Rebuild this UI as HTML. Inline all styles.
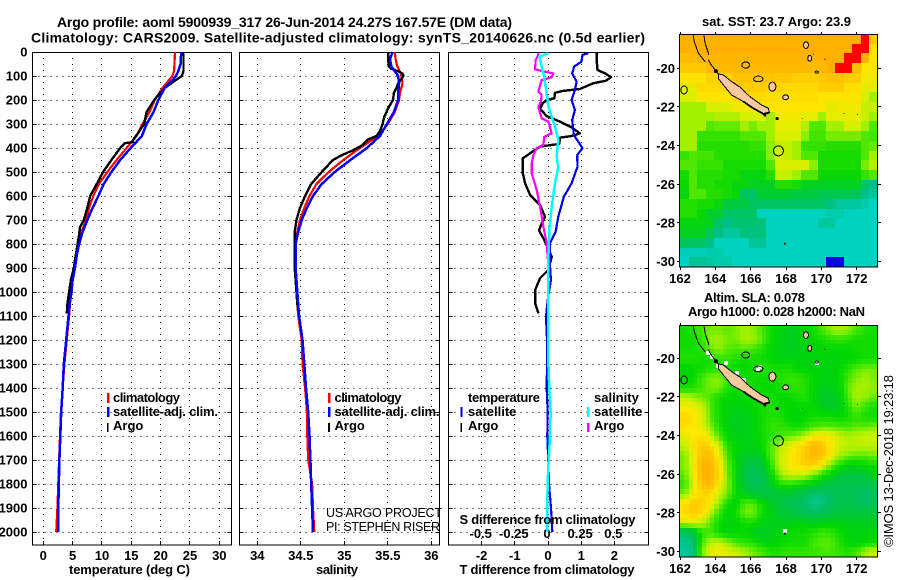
<!DOCTYPE html>
<html>
<head>
<meta charset="utf-8">
<title>Argo profile 5900939_317</title>
<style>
html,body{margin:0;padding:0;background:#fff;width:900px;height:580px;overflow:hidden}
svg{display:block}
text{font-family:"Liberation Sans",sans-serif;fill:#000}
.b{font-weight:bold}
.tl{font-weight:bold;font-size:14px}
.lab{font-weight:bold;font-size:13px}
.leg{font-weight:bold;font-size:13px}
</style>
</head>
<body>
<svg id="chart" xmlns="http://www.w3.org/2000/svg" width="900" height="580" viewBox="0 0 900 580">
  <rect x="0" y="0" width="900" height="580" fill="#fff"/>
  <g id="maps"></g>
  <g id="panels"></g>

  <text class="tl" x="57" y="27" textLength="455" lengthAdjust="spacing">Argo profile: aoml 5900939_317 26-Jun-2014 24.27S 167.57E (DM data)</text>
  <text class="tl" x="31" y="42.5" textLength="614" lengthAdjust="spacing">Climatology: CARS2009. Satellite-adjusted climatology: synTS_20140626.nc (0.5d earlier)</text>

  <text class="lab" x="69" y="574" textLength="121" lengthAdjust="spacing">temperature (deg C)</text>
  <text class="lab" x="316" y="574" textLength="42" lengthAdjust="spacing">salinity</text>
  <text class="lab" x="459.5" y="574" textLength="175" lengthAdjust="spacing">T difference from climatology</text>
  <text class="lab" x="459.5" y="524" textLength="176" lengthAdjust="spacing">S difference from climatology</text>

  <g>
    <rect x="107" y="393" width="2.5" height="10" fill="#ff0000"/>
    <text class="leg" x="113" y="402" textLength="67" lengthAdjust="spacing">climatology</text>
    <rect x="107" y="407" width="2.5" height="10" fill="#0000ff"/>
    <text class="leg" x="113" y="416" textLength="105" lengthAdjust="spacing">satellite-adj. clim.</text>
    <rect x="107" y="423" width="1.5" height="9" fill="#000"/>
    <text class="leg" x="113" y="430">Argo</text>
  </g>
  <g>
    <rect x="328" y="393" width="2.5" height="10" fill="#ff0000"/>
    <text class="leg" x="334.5" y="402" textLength="67" lengthAdjust="spacing">climatology</text>
    <rect x="328" y="407" width="2.5" height="10" fill="#0000ff"/>
    <text class="leg" x="334.5" y="416" textLength="105" lengthAdjust="spacing">satellite-adj. clim.</text>
    <rect x="328" y="423" width="2" height="9" fill="#000"/>
    <text class="leg" x="334.5" y="430">Argo</text>
  </g>
  <g>
    <text class="leg" x="468" y="402" textLength="72" lengthAdjust="spacing">temperature</text>
    <rect x="460.5" y="407" width="2" height="10" fill="#0000e0"/>
    <text class="leg" x="468" y="416">satellite</text>
    <rect x="460.5" y="423" width="1.5" height="9" fill="#000"/>
    <text class="leg" x="468" y="430">Argo</text>
    <text class="leg" x="594" y="402">salinity</text>
    <rect x="587" y="407" width="2.5" height="10" fill="#00ffff"/>
    <text class="leg" x="594" y="416">satellite</text>
    <rect x="587" y="423" width="2.5" height="9" fill="#ff00ff"/>
    <text class="leg" x="594" y="430">Argo</text>
  </g>

  <text font-size="12.5" x="326" y="517" textLength="116" lengthAdjust="spacing">US ARGO PROJECT</text>
  <text font-size="12.5" x="326" y="531" textLength="114" lengthAdjust="spacing">PI: STEPHEN RISER</text>

  <text class="lab" x="702" y="26" textLength="149" lengthAdjust="spacing">sat. SST: 23.7 Argo: 23.9</text>
  <text class="lab" x="704" y="302" textLength="101" lengthAdjust="spacing">Altim. SLA: 0.078</text>
  <text class="lab" x="688" y="316" textLength="177" lengthAdjust="spacing">Argo h1000: 0.028 h2000: NaN</text>
  <text font-size="13" transform="translate(893,547) rotate(-90)" textLength="172" lengthAdjust="spacing">©IMOS 13-Dec-2018 19:23:18</text>
</svg>

<script>
// ---------- tick labels ----------
const depthTicks = [0,100,200,300,400,500,600,700,800,900,1000,1100,1200,1300,1400,1500,1600,1700,1800,1900,2000];
const tempTicks = [0,5,10,15,20,25,30];
const salTicks = [34,34.5,35,35.5,36];
const dtTicks = [-2,-1,0,1,2];
const dsTicks = [-0.5,-0.25,0,0.25,0.5];
const dsTickLabels = ['-0.5','-0.25','0','0.25','0.5'];
const lonTicks = [162,164,166,168,170,172];
const latTicks = [-20,-22,-24,-26,-28,-30];

// ---------- temperature profiles ----------
const argoTempDepth = [0,80,100,120,150,170,200,250,300,350,370,375,380,400,450,500,550,600,650,700,730,760,800,850,900,950,1000,1050,1090];
const argoTemp = [23.9,23.9,23.6,22.4,20.7,19.9,18.9,17.6,17.2,15.8,15.2,15.3,13.9,13.1,11.6,10.2,9.1,8.0,7.5,6.9,6.25,6.1,5.85,5.5,5.2,4.7,4.4,4.1,4.0];
const climTempDepth = [0,80,100,120,150,200,250,300,350,400,450,500,550,600,650,700,750,800,850,900,950,1000,1100,1150,1200,1300,1400,1500,1600,1700,1800,1900,2000];
const climTemp = [22.45,22.3,22,21.3,20.3,19,18.1,16.9,15.9,14.2,12.5,10.9,9.5,8.5,7.8,7.3,6.5,6.1,5.6,5.2,4.9,4.7,4.4,4.2,4.0,3.6,3.3,3.0,2.85,2.7,2.55,2.4,2.2];
const satTempDepth = [0,50,80,100,120,150,200,250,300,350,400,450,500,550,600,650,700,750,800,850,900,950,1000,1050,1100,1200,1300,1400,1500,1600,1700,1800,1900,2000];
const satTemp = [23.5,23.4,23,22.6,21.9,20.7,19.6,18.8,17.6,16.8,14.9,13.1,11.6,10.3,9.4,8.4,7.5,6.7,6.1,5.7,5.4,5,4.8,4.5,4.3,3.9,3.5,3.3,3.05,2.9,2.75,2.65,2.55,2.55];

// ---------- salinity profiles ----------
const argoSalDepth = [0,30,60,70,80,90,100,110,130,150,170,200,230,270,300,330,350,365,390,410,430,450,500,550,600,650,700,750,800,900,1000,1050,1095];
const argoSal = [35.505,35.505,35.51,35.54,35.62,35.67,35.68,35.66,35.62,35.6,35.57,35.56,35.51,35.46,35.44,35.41,35.37,35.27,35.2,35.1,34.97,34.87,34.74,34.62,34.55,34.49,34.45,34.43,34.43,34.43,34.45,34.46,34.48];
const climSalDepth = [0,30,60,90,130,170,200,250,300,350,400,450,500,550,600,650,700,750,800,900,1000,1100,1200,1300,1400,1500,1600,1700,1800,1900,2000];
const climSal = [35.58,35.59,35.61,35.65,35.67,35.64,35.63,35.58,35.5,35.39,35.18,34.99,34.82,34.68,34.6,34.54,34.49,34.46,34.44,34.44,34.45,34.47,34.51,34.52,34.55,34.57,34.575,34.585,34.63,34.64,34.655];
const satSalDepth = [0,30,60,80,100,130,170,200,250,300,350,400,450,500,550,600,650,700,750,800,900,1000,1100,1200,1300,1400,1500,1600,1700,1800,1900,2000];
const satSal = [35.555,35.525,35.54,35.58,35.62,35.63,35.62,35.62,35.57,35.49,35.41,35.26,35.07,34.89,34.74,34.64,34.57,34.51,34.47,34.44,34.44,34.46,34.48,34.52,34.54,34.56,34.585,34.6,34.61,34.62,34.63,34.64];

// ---------- differences from climatology ----------
const argoDtDepth = [5,40,75,89,105,120,130,154,162,170,193,200,214,237,267,290,314,339,350,357,383,394,422,443,505,547,596,637,686,714,744,776,811,853,908,943,992,1047,1089];
const argoDt = [1.47,1.47,1.49,1.72,1.9,1.74,1.37,0.96,0.46,0.21,0.19,-0.04,-0.16,-0.24,-0.04,0.36,0.71,0.96,0.71,0.36,0.34,-0.24,-0.54,-0.76,-0.76,-0.69,-0.54,-0.24,-0.09,-0.19,-0.27,-0.14,-0.02,0.11,0.01,-0.24,-0.39,-0.39,-0.29];
const satDtDepth = [5,12,40,61,89,124,158,200,242,283,346,401,429,478,547,603,686,749,797,894,950,1033,1103,1200,1300,1400,1500,1600,1700,1800,1850,1900,2000];
const satDt = [1.21,1.04,1.01,0.79,0.73,0.86,0.81,0.71,0.81,0.73,0.78,1.04,0.88,0.89,0.71,0.48,0.31,0.23,0.06,0.06,0.09,-0.01,-0.06,-0.03,-0.03,-0.04,-0.01,-0.02,0.01,0.03,0.06,0.09,0.13];
const argoDsDepth = [5,33,72,79,89,105,117,165,179,207,228,276,290,339,353,387,401,429,464,505,575,644,728,797,894,1090];
const argoDs = [-0.068,-0.093,-0.098,-0.048,0.04,0.028,-0.048,-0.073,-0.048,-0.053,-0.073,-0.048,0.003,0.028,-0.028,-0.035,-0.085,-0.11,-0.123,-0.123,-0.085,-0.06,-0.035,-0.01,0.003,0.003];
const satDsDepth = [5,19,89,172,228,311,367,436,478,547,644,742,853,1103,1300,1400,1500,1600,1700,1800,1900,2000];
const satDs = [0.003,-0.065,-0.035,-0.01,0.003,0.053,0.078,0.065,0.078,0.053,0.028,0.01,0.003,0.003,0.003,0.01,0.02,0.015,0.005,-0.003,-0.005,-0.005];

// ---------- SST map (deg C), rows north to south ----------
const sstRows = [
[25,25,25,25,25,25,25,25,25,25,25,25,25,25,25,25,25,25,25,25,25,25.5,24.5],
[25,25,25,25,25,25,25,25,25,25,25,25,25,25,25,25,25,25,25,25,25.5,25.5,24],
[24.7,24.8,24.9,24.9,24.9,24.9,24.9,24.9,24.9,24.9,24.9,24.9,24.9,24.9,24.9,24.9,24.9,25,25,25.5,25.5,25,24],
[24.5,24.5,24.5,24.8,24.8,24.8,24.8,24.8,24.8,24.8,24.8,24.8,24.8,24.8,24.8,24.7,24.8,25,25.5,25.5,24.7,24,24],
[24,24,24,24.3,24.3,24.3,24.6,24.6,24.6,24.6,24.6,24.5,24.5,24.4,24.4,24.4,24.5,24.6,24.6,24.4,24.4,23.9,23.9],
[23.8,23.8,24.2,24.2,24.2,24.2,24.4,24.4,24.4,24.4,24.3,24.3,24.2,24.2,24.2,24.2,24.4,24.4,24.4,24.1,24.1,23.8,23.8],
[23.7,23.7,24,24,24,24,24.2,24.2,24.2,24.2,24.1,24.1,24.1,24.1,24.1,24.1,24,24,24,24,24,23.7,23.4],
[23.4,23.4,23.4,23.7,23.7,23.7,23.9,23.9,23.9,23.9,24,24,24,24,24,24,24,23.8,23.9,23.9,23.9,23.6,23.6],
[23.4,23.4,23.4,23.4,23.5,23.5,23.5,23.7,23.7,23.7,23.4,23.9,23.9,23.9,23.8,23.8,23.4,23.8,23.8,23.8,23.8,23.6,23.4],
[23.4,23.4,23.4,23,23.1,23.1,23.1,23.4,23.2,23.4,23.4,23.8,23.8,23.8,23.5,23,23,23.4,23.4,23.7,23.7,23.4,23],
[23.4,23.4,22.8,22.8,22.8,22.8,22.8,23,23,23,23.4,23.7,23.7,23.7,23.3,22.9,22.9,23.2,23.2,23.2,23.2,23,22.9],
[23.4,23.4,22.7,22.7,22.7,22.7,22.7,22.7,22.8,22.8,23.3,23.6,23.6,23.4,22.8,22.8,22.8,22.7,22.7,22.7,22.7,23,23.1],
[22.8,23,22.9,22.9,22.7,22.7,22.7,22.7,22.7,22.7,23.3,23.7,23.6,23.4,23,23,22.6,22.6,22.6,22.6,22.6,23,23.4],
[23,23,22.8,22.8,22.8,22.6,22.6,22.6,22.6,22.6,23,23.7,23.7,23.7,23.7,23.3,22.6,22.6,22.6,22.6,22.6,23.2,23.5],
[22.6,23,22.7,22.7,22.7,22.6,22.6,22.4,22.4,22.4,22.7,23.6,23.6,23.4,23,23,22.5,22.5,22.5,22.5,22.5,22.8,23],
[22.5,23,22.7,22.7,22.6,22.6,22.4,22.4,22.3,22.3,22.3,22.7,22.7,22.6,22.3,22.3,22.3,22.3,22.3,22.3,22.3,21.8,21.5],
[22.4,23,23,22.7,22.7,22.6,22.4,21.8,21.8,22.2,22.2,22.2,22.2,22.1,22.1,22.1,22,22,22,22,21.9,21.5,21.3],
[22.7,22.7,22.6,22.6,22.4,22.1,22.1,22.1,21.8,21.8,21.8,21.8,21.8,21.8,21.8,21.8,21.8,21.6,21.3,21.3,21.3,21.2,21],
[22.7,22.7,22.5,22.2,22.2,21.8,21.8,21.8,21.8,21,21,21,21,21,21,21,21,21.2,21.2,21,21,21,21],
[22.4,22.4,22.4,22.3,21.8,21.5,21.7,21.7,21.7,21.6,21,21,21,21,21,21,21.3,21.3,21,21,21,21,21],
[22.3,22.3,22.3,21.9,21.5,21.3,21.3,21.6,21.6,21.6,21,21,21,21,21,21,21,21,21,21,21,21,21],
[21.9,21.8,21.8,21.5,21,21,21,21,21.4,21.4,21,21,21,21,21,21,21,21,21,21,21,21,21],
[21.1,21.1,21.1,21.2,21.2,21,21,21,21,21,21,21,21,21,21,21,21,21,21,21,21,21,21],
[21,21.4,21.4,21.3,21.2,21.2,21,21,21,21,21,21,21,21,21,21,21,20,20,21,21,21,21]
];
const sstStops = [20,20.5,21,21.5,22,22.5,23,23.4,23.7,24,24.5,25,25.3,25.5];
const sstColors = ['#0000e0','#0000e0','#00d2c0','#00c088','#00c850','#08d800','#50e800','#a0f000','#d8f000','#ffe400','#ffc800','#ffb000','#ff9000','#ff0000'];

// ---------- SLA map (m), rows north to south ----------
const slaRows = [
[.05,.06,.08,.1,.1,.09,.1,.12,.11,.08,.05,.03,.02,.02,.03,.05,.08,.11,.12,.11,.08,.06,.05],
[.05,.05,.07,.11,.12,.1,.1,.12,.12,.09,.05,.03,.02,.02,.03,.04,.05,.06,.07,.06,.05,.05,.05],
[.05,.05,.06,.09,.11,.09,.08,.09,.08,.06,.04,.03,.02,.02,.03,.03,.04,.04,.04,.04,.05,.05,.05],
[.06,.06,.05,.05,.07,.07,.06,.05,.05,.05,.04,.03,.03,.03,.03,.03,.03,.03,.03,.04,.04,.05,.05],
[.03,.04,.05,.06,.06,.05,.04,.04,.05,.06,.06,.05,.06,.04,.03,.03,.03,.03,.04,.06,.09,.1,.1],
[.04,.04,.08,.1,.11,.08,.06,.05,.05,.05,.05,.06,.07,.07,.06,.04,.03,.03,.04,.08,.1,.12,.1],
[.05,.06,.08,.1,.1,.06,.05,.05,.05,.04,.04,.05,.06,.07,.06,.04,.02,.02,.03,.09,.12,.12,.11],
[.14,.12,.1,.08,.05,.04,.03,.04,.05,.05,.05,.04,.04,.05,.06,.04,.01,.01,.02,.08,.12,.11,.09],
[.16,.16,.14,.09,.05,.03,.03,.03,.04,.05,.06,.05,.04,.04,.04,.04,.02,.01,.02,.06,.1,.07,.05],
[.19,.18,.15,.09,.05,.03,.02,.02,.03,.05,.06,.06,.04,.03,.04,.05,.05,.05,.04,.05,.07,.05,.05],
[.18,.17,.15,.11,.06,.03,.02,.02,.03,.05,.07,.07,.06,.05,.06,.08,.09,.09,.08,.08,.09,.09,.1],
[.15,.17,.18,.14,.08,.04,.02,.02,.03,.05,.06,.08,.09,.1,.13,.16,.17,.16,.14,.12,.13,.14,.14],
[.13,.17,.21,.2,.14,.06,.04,.03,.03,.04,.08,.12,.15,.17,.2,.24,.22,.17,.14,.13,.13,.13,.13],
[.1,.16,.22,.23,.16,.08,.03,.01,.01,.02,.08,.13,.16,.18,.21,.24,.22,.17,.12,.1,.09,.09,.1],
[.1,.16,.24,.25,.18,.09,.04,0,-.02,0,.06,.13,.16,.18,.2,.2,.16,.1,.06,.03,.03,.04,.05],
[.09,.15,.24,.25,.19,.1,.04,-.01,-.04,-.02,.03,.1,.14,.14,.13,.1,.06,.03,0,-.01,-.01,0,.02],
[.07,.14,.22,.24,.17,.11,.04,0,-.03,-.03,.01,.05,.06,.05,.03,.02,0,-.01,-.02,-.02,-.02,-.02,-.01],
[.1,.16,.19,.19,.14,.1,.04,.02,0,-.01,-.01,0,0,-.01,-.03,-.05,-.05,-.04,-.03,-.02,-.03,-.05,-.04],
[.18,.21,.2,.17,.11,.05,.03,.09,.09,.05,.02,-.01,-.02,-.03,-.05,-.07,-.06,-.04,-.02,-.02,-.03,-.04,-.03],
[.18,.21,.18,.13,.07,.03,.05,.1,.1,.05,.03,.01,0,-.01,-.02,-.03,-.02,-.01,0,0,0,0,0],
[.14,.15,.13,.09,.05,.03,.03,.05,.05,.03,.02,.02,.02,.03,.03,.02,.03,.03,.03,.02,.02,.02,.02],
[-.05,-.03,.06,.08,.05,.03,.04,.04,.02,.01,.02,.03,.04,.05,.05,.06,.08,.07,.05,.03,.03,.03,.03],
[-.07,-.05,.08,.13,.14,.12,.08,.07,.06,.04,.03,.04,.05,.05,.05,.08,.09,.09,.06,.04,.03,.04,.05],
[-.08,-.06,.1,.15,.16,.15,.14,.12,.1,.08,.06,.06,.07,.07,.07,.07,.08,.08,.07,.06,.08,.12,.14]
];
const slaStops = [-0.08,-0.04,0,0.04,0.08,0.11,0.14,0.17,0.21,0.25];
const slaColors = ['#00c8a0','#00c060','#00c838','#00d800','#40e800','#90f000','#d0f000','#ffe800','#ffc800','#ffb000'];

// ---------- geography (lon, lat) ----------
const newCaledoniaLon = [164.17,164.45,164.92,165.4,165.96,166.62,167,167.06,166.72,166.15,165.58,164.92,164.45,164.17];
const newCaledoniaLat = [-20.29,-20.34,-20.69,-20.98,-21.47,-21.9,-22.07,-22.29,-22.36,-22.07,-21.72,-21.38,-20.86,-20.52];
const southShoreLon = [165.58,166.15,166.72,167.06];
const southShoreLat = [-21.72,-22.07,-22.36,-22.29];
const reefALon = [162.75,162.8,163.04,163.42];
const reefALat = [-18.28,-18.6,-19.22,-19.66];
const reefBLon = [163.35,163.42,163.6,163.62];
const reefBLat = [-18.28,-18.7,-19.2,-19.3];
const reefCLon = [163.6,163.75,164,164.17];
const reefCLat = [-19.55,-19.8,-20.1,-20.29];
const islandLon = [165.72,166.43,167.23,167.98,162.23,169.13,169.34,169.74,167.5,168.92,171.28,172.04,170.2,167.94,169.55,164.03,166.8];
const islandLat = [-19.83,-20.55,-20.95,-21.5,-21.12,-18.8,-19.48,-20.2,-22.6,-22.6,-22.33,-22.38,-19.53,-29.07,-19.26,-20.15,-22.42];
const islandRx = [4,4.7,3.5,3,3.3,2.4,2,1.6,1.6,.5,.5,.5,1,.8,.6,2,1.5];
const islandRy = [3,2.8,4.5,2.4,4,3.4,3,1,1.6,.7,.5,.5,.5,1.4,.6,2,1.5];
const islandFill = ['none','none','#fcc8a0','#fcc8a0','none','#fcc8a0','#fcc8a0','none','#000','#000','#000','#000','#000','#000','#000','#000','#000'];
const missingLon = [163.6,163.8,164.15,165.2,165.65,166.4,166.55,169.75,167.95,164.6];
const missingLat = [-19.7,-19.95,-20.4,-20.75,-21.1,-20.6,-20.45,-20.25,-28.95,-20.25];
const argoLon = 167.57;
const argoLat = -24.27;

// ---------- helpers ----------
const NS = 'http://www.w3.org/2000/svg';
const panels = document.getElementById('panels');
const maps = document.getElementById('maps');
function make(parent, tag, attrs, txt) {
  const el = document.createElementNS(NS, tag);
  for (const k in attrs) el.setAttribute(k, attrs[k]);
  if (txt !== undefined) el.textContent = txt;
  parent.appendChild(el);
  return el;
}
const crisp = {'shape-rendering':'crispEdges'};
const yDepth = d => 52 + 0.24 * d;
const xTemp = v => 43.3 + 5.867 * v;
const xSal = v => 257.3 + 87 * (v - 34);
const xDt = v => 548 + 33.2 * v;
const xDs = v => 548 + 132.6 * v;
const half = v => Math.round(v - 0.5) + 0.5;
function pts(xs, ys, fx, fy) {
  return xs.map((x, i) => fx(x).toFixed(1) + ',' + fy(ys[i]).toFixed(1)).join(' ');
}

function drawFrame(x0, x1, ticks, fx, depthLabels) {
  depthTicks.forEach(d => {
    const y = half(yDepth(d));
    if (d > 0) {
      const g = make(panels, 'line', Object.assign({x1:x0, x2:x1, y1:y, y2:y, stroke:'#000', 'stroke-width':1, 'stroke-dasharray':'1 5'}, crisp));
      
      
    }
    const t1 = make(panels, 'line', Object.assign({x1:x0, x2:x0 + 4, y1:y, y2:y, stroke:'#000', 'stroke-width':1}, crisp));
    
    
    const t2 = make(panels, 'line', Object.assign({x1:x1 - 4, x2:x1, y1:y, y2:y, stroke:'#000', 'stroke-width':1}, crisp));
    
    
    if (depthLabels) {
      const lb = make(panels, 'text', {x:27.5, y:yDepth(d) + 4.5, 'text-anchor':'end', 'class':'lab'}, String(d));
      
      
    }
  });
  ticks.forEach((v, i) => {
    const x = half(fx(v));
    const g = make(panels, 'line', Object.assign({x1:x, x2:x, y1:52, y2:545, stroke:'#000', 'stroke-width':1, 'stroke-dasharray':'1 5'}, crisp));
    
    
    const t = make(panels, 'line', Object.assign({x1:x, x2:x, y1:541, y2:545, stroke:'#000', 'stroke-width':1}, crisp));
    
    
    const lb = make(panels, 'text', {x:fx(v), y:560, 'text-anchor':'middle', 'class':'lab'}, String(v));
    
    
  });
  const r = make(panels, 'rect', Object.assign({x:x0, y:52.5, width:x1 - x0, height:492.5, fill:'none', stroke:'#000', 'stroke-width':1.3}, crisp));
  
  
}

function series(vals, depths, fx, color, name, w) {
  const l = make(panels, 'polyline', {points:pts(vals, depths, fx, yDepth), fill:'none', stroke:color, 'stroke-width':w || 2.2, 'stroke-linejoin':'round', 'shape-rendering':'crispEdges'});
  
  
}

// ---------- profile panels ----------
drawFrame(32.5, 231.5, tempTicks, xTemp, true);
series(climTemp, climTempDepth, xTemp, '#ff0000', 'climatology-temperature-line');
series(argoTemp, argoTempDepth, xTemp, '#000000', 'argo-temperature-line', 2.4);
series(satTemp, satTempDepth, xTemp, '#0000ff', 'satellite-temperature-line', 2.5);

drawFrame(239.5, 439.5, salTicks, xSal, false);
series(climSal, climSalDepth, xSal, '#ff0000', 'climatology-salinity-line');
series(argoSal, argoSalDepth, xSal, '#000000', 'argo-salinity-line', 2.4);
series(satSal, satSalDepth, xSal, '#0000ff', 'satellite-salinity-line', 2.5);

drawFrame(448.5, 648.5, dtTicks, xDt, false);
dsTicks.forEach((v, i) => {
  const lb = make(panels, 'text', {x:xDs(v) - 1, y:538, 'text-anchor':'middle', 'class':'lab'}, dsTickLabels[i]);
  
  
});
series(argoDt, argoDtDepth, xDt, '#000000', 'argo-t-difference-line', 2.4);
series(satDt, satDtDepth, xDt, '#0000e0', 'satellite-t-difference-line');
series(argoDs, argoDsDepth, xDs, '#ff00ff', 'argo-s-difference-line');
series(satDs, satDsDepth, xDs, '#00ffff', 'satellite-s-difference-line', 2.5);

// ---------- maps ----------
function hex(c) { return [1,3,5].map(i => parseInt(c.substr(i,2),16)); }
function colorOf(v, stops, colors) {
  if (v <= stops[0]) return colors[0];
  for (let i = 1; i < stops.length; i++) {
    if (v <= stops[i]) {
      const f = (v - stops[i-1]) / (stops[i] - stops[i-1]);
      const a = hex(colors[i-1]), b = hex(colors[i]);
      return 'rgb(' + a.map((p, k) => Math.round(p + (b[k] - p) * f)).join(',') + ')';
    }
  }
  return colors[colors.length - 1];
}
const mapX0 = 680, mapX1 = 878;
const lonX = lon => 680 + 17.67 * (lon - 162);

function drawSst(top, bottom) {
  const g = make(maps, 'g', crisp);
  
  
  const nr = sstRows.length, nc = sstRows[0].length;
  const cw = (mapX1 - mapX0) / nc, ch = (bottom - top) / nr;
  sstRows.forEach((row, j) => row.forEach((v, i) => {
    const x = Math.round(mapX0 + i * cw), y = Math.round(top + j * ch);
    const c = make(g, 'rect', {x:x, y:y, width:Math.round(mapX0 + (i + 1) * cw) - x, height:Math.round(top + (j + 1) * ch) - y, fill:colorOf(v, sstStops, sstColors)});
    
    
  }));
}

function slaAt(u, v) {
  const nr = slaRows.length, nc = slaRows[0].length;
  const fx = Math.max(0, Math.min(nc - 1.0001, u));
  const fy = Math.max(0, Math.min(nr - 1.0001, v));
  const i = Math.floor(fx), j = Math.floor(fy), a = fx - i, b = fy - j;
  return (1-a)*(1-b)*slaRows[j][i] + a*(1-b)*slaRows[j][i+1] + (1-a)*b*slaRows[j+1][i] + a*b*slaRows[j+1][i+1];
}

function drawSla(top, bottom) {
  const g = make(maps, 'g', crisp);
  
  
  const nr = slaRows.length, nc = slaRows[0].length;
  const fine = 2;
  for (let j = 0; j < nr * fine; j++) {
    for (let i = 0; i < nc * fine; i++) {
      const cw = (mapX1 - mapX0) / (nc * fine), ch = (bottom - top) / (nr * fine);
      const x = Math.round(mapX0 + i * cw), y = Math.round(top + j * ch);
      const val = slaAt((i + .5) / fine - .5, (j + .5) / fine - .5);
      const c = make(g, 'rect', {x:x, y:y, width:Math.round(mapX0 + (i + 1) * cw) - x, height:Math.round(top + (j + 1) * ch) - y, fill:colorOf(val, slaStops, slaColors)});
      
      
    }
  }
}

function drawGeo(latY, withMissing) {
  const g = make(maps, 'g', crisp);
  
  
  if (withMissing) {
    missingLon.forEach((lon, i) => {
      const m = make(g, 'rect', {x:Math.round(lonX(lon)) - 2, y:Math.round(latY(missingLat[i])) - 2, width:4, height:4, fill:'#fff'});
      
      
    });
  }
  const nc = make(g, 'polygon', {points:pts(newCaledoniaLon, newCaledoniaLat, lonX, latY), fill:'#fcc8a0', stroke:'#000', 'stroke-width':1});
  
  
  const ss = make(g, 'polyline', {points:pts(southShoreLon, southShoreLat, lonX, latY), fill:'none', stroke:'#000', 'stroke-width':1.8});
  
  
  [[reefALon, reefALat], [reefBLon, reefBLat], [reefCLon, reefCLat]].forEach(p => {
    const r = make(g, 'polyline', {points:pts(p[0], p[1], lonX, latY), fill:'none', stroke:'#000', 'stroke-width':1});
    
    
  });
  islandLon.forEach((lon, i) => {
    const e = make(g, 'ellipse', {cx:lonX(lon), cy:latY(islandLat[i]), rx:islandRx[i], ry:islandRy[i], fill:islandFill[i], stroke:'#000', 'stroke-width':islandFill[i] === '#000' ? 0 : 1});
    
    
  });
  const c = make(g, 'circle', {cx:lonX(argoLon), cy:latY(argoLat), r:5, fill:'none', stroke:'#000', 'stroke-width':1});
  
  
}

function drawMapAxes(top, bottom, latY) {
  lonTicks.forEach(lon => {
    const x = half(lonX(lon));
    const t1 = make(maps, 'line', Object.assign({x1:x, x2:x, y1:top - 2, y2:top, stroke:'#000', 'stroke-width':1}, crisp));
    
    
    const t2 = make(maps, 'line', Object.assign({x1:x, x2:x, y1:bottom, y2:bottom + 3, stroke:'#000', 'stroke-width':1}, crisp));
    
    
    const lb = make(maps, 'text', {x:lonX(lon), y:bottom + 16, 'text-anchor':'middle', 'class':'lab', 'font-size':'13'}, String(lon));
    
    
  });
  latTicks.forEach(lat => {
    const y = half(latY(lat));
    const t1 = make(maps, 'line', Object.assign({x1:677, x2:680, y1:y, y2:y, stroke:'#000', 'stroke-width':1}, crisp));
    
    
    const t2 = make(maps, 'line', Object.assign({x1:878, x2:881, y1:y, y2:y, stroke:'#000', 'stroke-width':1}, crisp));
    
    
    const lb = make(maps, 'text', {x:675, y:latY(lat) + 4.5, 'text-anchor':'end', 'class':'lab'}, String(lat));
    
    
  });
  const r = make(maps, 'rect', Object.assign({x:679.5, y:top + .5, width:198, height:bottom - top - .5, fill:'none', stroke:'#000', 'stroke-width':1}, crisp));
  
  
}

const sstLatY = lat => 68.3 + 19.33 * (-20 - lat);
const slaLatY = lat => 358.3 + 19.33 * (-20 - lat);
drawSst(34, 267);
drawGeo(sstLatY, false);
drawMapAxes(34, 267, sstLatY);
drawSla(325, 557);
drawGeo(slaLatY, true);
drawMapAxes(325, 557, slaLatY);
</script>
</body>
</html>
